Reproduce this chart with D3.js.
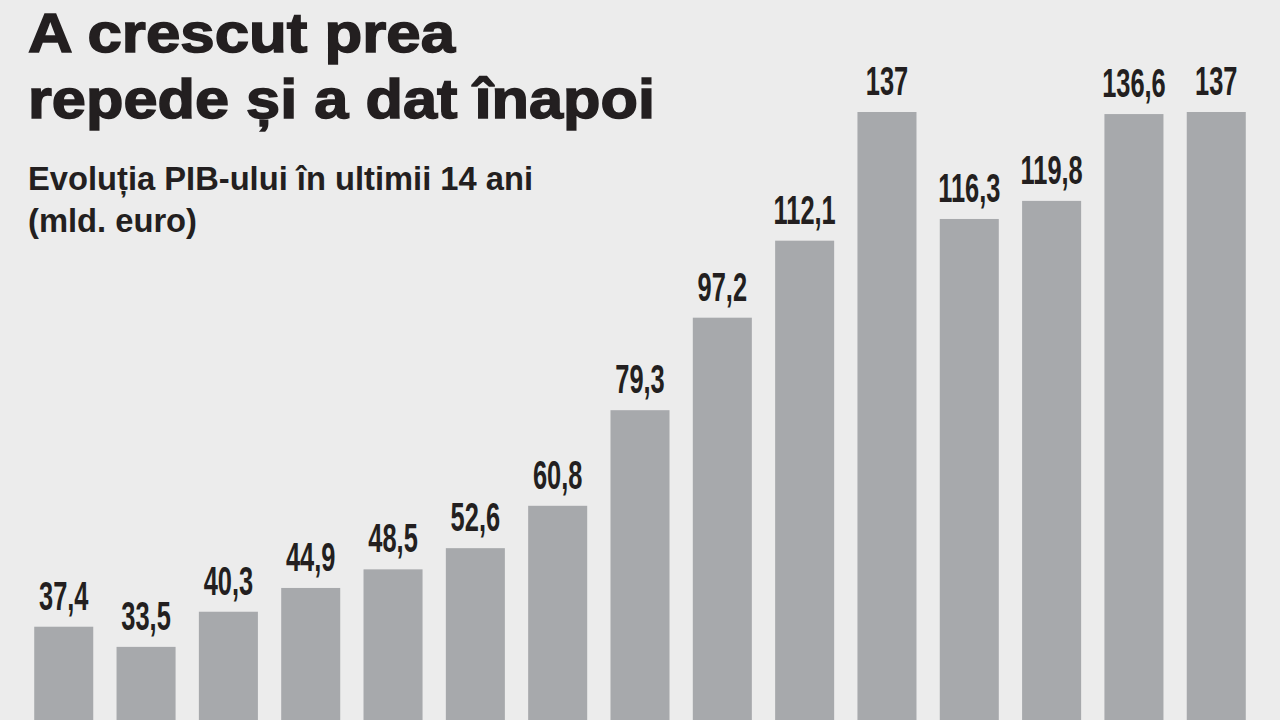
<!DOCTYPE html><html><head><meta charset="utf-8">
<script src="https://cdn.jsdelivr.net/npm/d3@7"></script>
<style>body{margin:0;background:#ececec}svg{display:block}</style></head><body>
<svg id="c" width="1280" height="720"></svg>
<script>
const categories = ["1","2","3","4","5","6","7","8","9","10","11","12","13","14","15"];
const values = [37.4,33.5,40.3,44.9,48.5,52.6,60.8,79.3,97.2,112.1,137,116.3,119.8,136.6,137];
const labels = ["37,4","33,5","40,3","44,9","48,5","52,6","60,8","79,3","97,2","112,1","137","116,3","119,8","136,6","137"];
const svg = d3.select("#c");
svg.append("rect").attr("width",1280).attr("height",720).attr("fill","#ececec");
const x = d3.scaleBand().domain(categories).range([12,1268]).paddingInner(0.283).paddingOuter(0.27);
const y = d3.scaleLinear().domain([0,137]).range([820,112]);
const font = "'Liberation Sans',Arial,sans-serif";
svg.selectAll("rect.b").data(values).join("rect").attr("class","b")
 .attr("x",(d,i)=>x(categories[i])).attr("width",x.bandwidth())
 .attr("y",d=>y(d)).attr("height",d=>820-y(d)).attr("fill","#a7a9ac");
svg.selectAll("text.l").data(values).join("text").attr("class","l")
 .attr("transform",(d,i)=>`translate(${x(categories[i])+x.bandwidth()/2},${y(d)-17}) scale(0.62,1)`)
 .attr("text-anchor","middle").attr("font-family",font).attr("font-weight","bold")
 .attr("font-size",41).attr("fill","#231f20").text((d,i)=>labels[i]);
const t = [["A crescut prea",52,56,427],["repede și a dat înapoi",118,56,627],["Evoluția PIB-ului în ultimii 14 ani",190,33,505],["(mld. euro)",232,33,169]];
t.forEach(([s,yy,fs,w])=>svg.append("text").attr("x",28).attr("y",yy).attr("font-family",font)
 .attr("font-weight","bold").attr("font-size",fs).attr("fill","#231f20")
 .attr("textLength",w).attr("lengthAdjust","spacingAndGlyphs")
 .attr("stroke",fs>40?"#231f20":"none").attr("stroke-width",fs>40?1.5:0).text(s));
</script></body></html>
